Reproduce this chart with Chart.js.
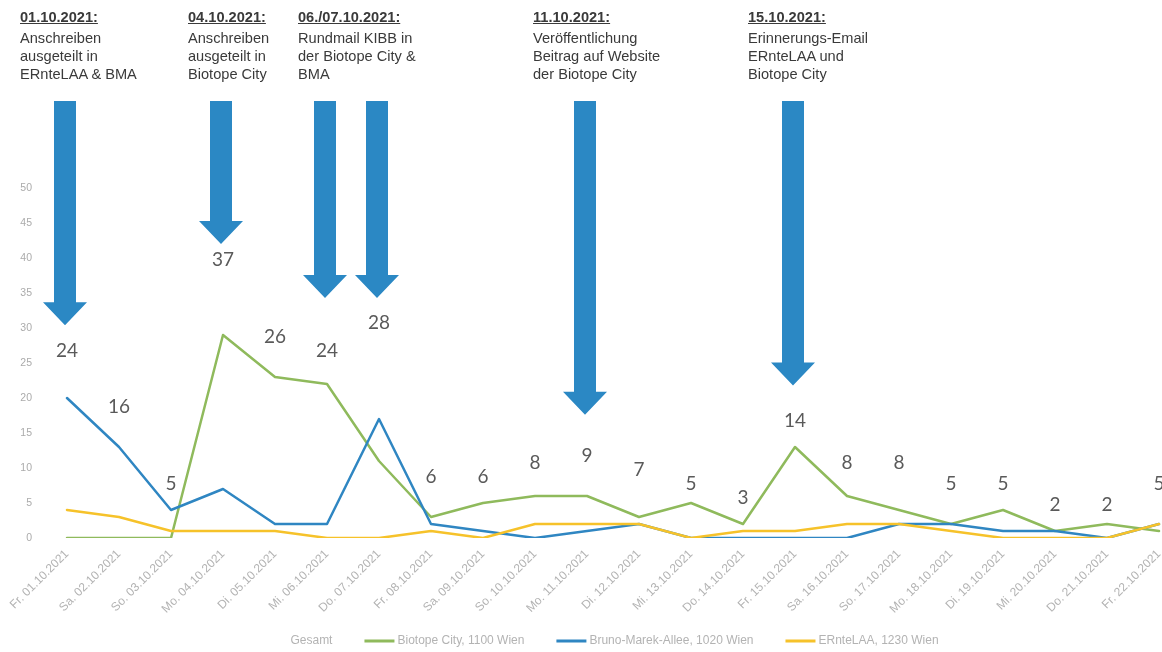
<!DOCTYPE html>
<html lang="de">
<head>
<meta charset="utf-8">
<title>Rückmeldungen Oktober 2021</title>
<script src="https://cdn.jsdelivr.net/npm/chart.js@4.4.1/dist/chart.umd.min.js"></script>
<style>
  html, body { margin: 0; padding: 0; background: #fff; overflow: hidden; width: 1162px; height: 652px; }
  #wrap { position: absolute; left: 0; top: 0; width: 1200px; height: 652px; }
  .note { position: absolute; top: 8px; font-family: "Liberation Sans", Arial, sans-serif; font-size: 14.6px;
          line-height: 18px; color: #3a3a3a; white-space: nowrap; }
  .note b { display: block; text-decoration: underline; margin-bottom: 3px; }
</style>
</head>
<body>
<div id="wrap"><canvas id="c" width="1200" height="652"></canvas></div>

<div class="note" style="left:20px"><b>01.10.2021:</b>Anschreiben<br>ausgeteilt in<br>ERnteLAA &amp; BMA</div>
<div class="note" style="left:188px"><b>04.10.2021:</b>Anschreiben<br>ausgeteilt in<br>Biotope City</div>
<div class="note" style="left:298px"><b>06./07.10.2021:</b>Rundmail KIBB in<br>der Biotope City &amp;<br>BMA</div>
<div class="note" style="left:533px"><b>11.10.2021:</b>Veröffentlichung<br>Beitrag auf Website<br>der Biotope City</div>
<div class="note" style="left:748px"><b>15.10.2021:</b>Erinnerungs-Email<br>ERnteLAA und<br>Biotope City</div>

<script>
// Tage des Erhebungszeitraums
const days = [
  'Fr. 01.10.2021', 'Sa. 02.10.2021', 'So. 03.10.2021', 'Mo. 04.10.2021', 'Di. 05.10.2021',
  'Mi. 06.10.2021', 'Do. 07.10.2021', 'Fr. 08.10.2021', 'Sa. 09.10.2021', 'So. 10.10.2021',
  'Mo. 11.10.2021', 'Di. 12.10.2021', 'Mi. 13.10.2021', 'Do. 14.10.2021', 'Fr. 15.10.2021',
  'Sa. 16.10.2021', 'So. 17.10.2021', 'Mo. 18.10.2021', 'Di. 19.10.2021', 'Mi. 20.10.2021',
  'Do. 21.10.2021', 'Fr. 22.10.2021'
];

// Rückmeldungen pro Tag
const gesamt          = [24, 16, 5, 37, 26, 24, 28, 6, 6, 8, 9, 7, 5, 3, 14, 8, 8, 5, 5, 2, 2, 5];
const biotopeCity     = [0, 0, 0, 29, 23, 22, 11, 3, 5, 6, 6, 3, 5, 2, 13, 6, 4, 2, 4, 1, 2, 1];
const brunoMarekAllee = [20, 13, 4, 7, 2, 2, 17, 2, 1, 0, 1, 2, 0, 0, 0, 0, 2, 2, 1, 1, 0, 2];
const ernteLaa        = [4, 3, 1, 1, 1, 0, 0, 1, 0, 2, 2, 2, 0, 1, 1, 2, 2, 1, 0, 0, 0, 2];

const seriesNames = ['Gesamt', 'Biotope City, 1100 Wien', 'Bruno-Marek-Allee, 1020 Wien', 'ERnteLAA, 1230 Wien'];
const yTicks = [0, 5, 10, 15, 20, 25, 30, 35, 40, 45, 50];

// Aktionen: Tag (Index) und Höhe der Pfeilspitze auf der y-Achse
const actionDays = [0, 3, 5, 6, 10, 14];
const actionTips = [30.4, 42, 34.3, 34.3, 17.6, 21.8];

const COLORS = {
  gesamt: 'rgba(255,255,255,0)',
  biotope: '#8fba5c',
  bma: '#2f86c2',
  ernte: '#f6c22a',
  arrow: '#2b88c4'
};

// Summenwerte als Beschriftung über der (unsichtbaren) Gesamt-Linie
const totalLabels = {
  id: 'totalLabels',
  afterDatasetsDraw(chart) {
    const meta = chart.getDatasetMeta(0);
    const ctx = chart.ctx;
    ctx.save();
    ctx.font = '19px Lato, "Open Sans", sans-serif';
    ctx.fillStyle = '#5a5a5a';
    ctx.textAlign = 'center';
    ctx.textBaseline = 'middle';
    meta.data.forEach((pt, i) => {
      ctx.fillText(String(chart.data.datasets[0].data[i]), pt.x, pt.y - 19);
    });
    ctx.restore();
  }
};

// Blaue Pfeile zu den Aktionstagen
const actionArrows = {
  id: 'actionArrows',
  afterDraw(chart) {
    const ctx = chart.ctx;
    const xs = chart.scales.x, ys = chart.scales.y;
    const top = 101, shaft = 22, head = 44, headLen = 23;
    ctx.save();
    ctx.fillStyle = COLORS.arrow;
    actionDays.forEach((d, i) => {
      const cx = xs.getPixelForValue(d) - 2;
      const tip = ys.getPixelForValue(actionTips[i]);
      ctx.beginPath();
      ctx.moveTo(cx - shaft / 2, top);
      ctx.lineTo(cx + shaft / 2, top);
      ctx.lineTo(cx + shaft / 2, tip - headLen);
      ctx.lineTo(cx + head / 2, tip - headLen);
      ctx.lineTo(cx, tip);
      ctx.lineTo(cx - head / 2, tip - headLen);
      ctx.lineTo(cx - shaft / 2, tip - headLen);
      ctx.closePath();
      ctx.fill();
    });
    ctx.restore();
  }
};

// Legende unter dem Diagramm
const bottomLegend = {
  id: 'bottomLegend',
  afterDraw(chart) {
    const ctx = chart.ctx;
    ctx.save();
    ctx.font = '12px "Liberation Sans", Arial, sans-serif';
    ctx.textBaseline = 'middle';
    const lineLen = 30, gapText = 3, gapItem = 32;
    const items = chart.data.datasets.map(ds => ({ text: ds.label, color: ds.borderColor }));
    const widths = items.map(it => lineLen + gapText + ctx.measureText(it.text).width);
    const total = widths.reduce((a, b) => a + b, 0) + gapItem * (items.length - 1);
    let x = 598 - total / 2;
    const y = 641;
    items.forEach((it, i) => {
      ctx.fillStyle = it.color;
      ctx.fillRect(x, y - 1.5, lineLen, 3);
      ctx.fillStyle = '#b3b3b3';
      ctx.fillText(it.text, x + lineLen + gapText, y);
      x += widths[i] + gapItem;
    });
    ctx.restore();
  }
};

new Chart(document.getElementById('c'), {
  type: 'line',
  data: {
    labels: days,
    datasets: [
      { label: seriesNames[0], data: gesamt, borderColor: COLORS.gesamt, borderWidth: 0, pointRadius: 0, order: 4 },
      { label: seriesNames[1], data: biotopeCity, borderColor: COLORS.biotope, borderWidth: 2.5, pointRadius: 0, order: 3 },
      { label: seriesNames[2], data: brunoMarekAllee, borderColor: COLORS.bma, borderWidth: 2.5, pointRadius: 0, order: 2 },
      { label: seriesNames[3], data: ernteLaa, borderColor: COLORS.ernte, borderWidth: 2.5, pointRadius: 0, order: 1 }
    ]
  },
  options: {
    responsive: false,
    animation: false,
    devicePixelRatio: 1,
    elements: { line: { tension: 0, borderJoinStyle: 'round', borderCapStyle: 'round' } },
    layout: { padding: { top: 188, right: 15, bottom: 30, left: 0 } },
    plugins: { legend: { display: false }, tooltip: { enabled: false } },
    scales: {
      x: {
        offset: true,
        grid: { display: false, drawTicks: false },
        border: { display: false },
        ticks: {
          autoSkip: false, minRotation: 45, maxRotation: 45, padding: 9,
          color: '#b3b3b3', font: { family: '"Liberation Sans", Arial, sans-serif', size: 12 }
        },
        afterFit(scale) { scale.height = 84; }
      },
      y: {
        min: 0, max: 50,
        afterBuildTicks(scale) { scale.ticks = yTicks.map(v => ({ value: v })); },
        grid: { display: false, drawTicks: false },
        border: { display: false },
        ticks: {
          padding: 9, color: '#ababab',
          font: { family: '"Liberation Sans", Arial, sans-serif', size: 10.5 }
        },
        afterFit(scale) { scale.width = 41; }
      }
    }
  },
  plugins: [totalLabels, actionArrows, bottomLegend]
});
</script>
</body>
</html>
